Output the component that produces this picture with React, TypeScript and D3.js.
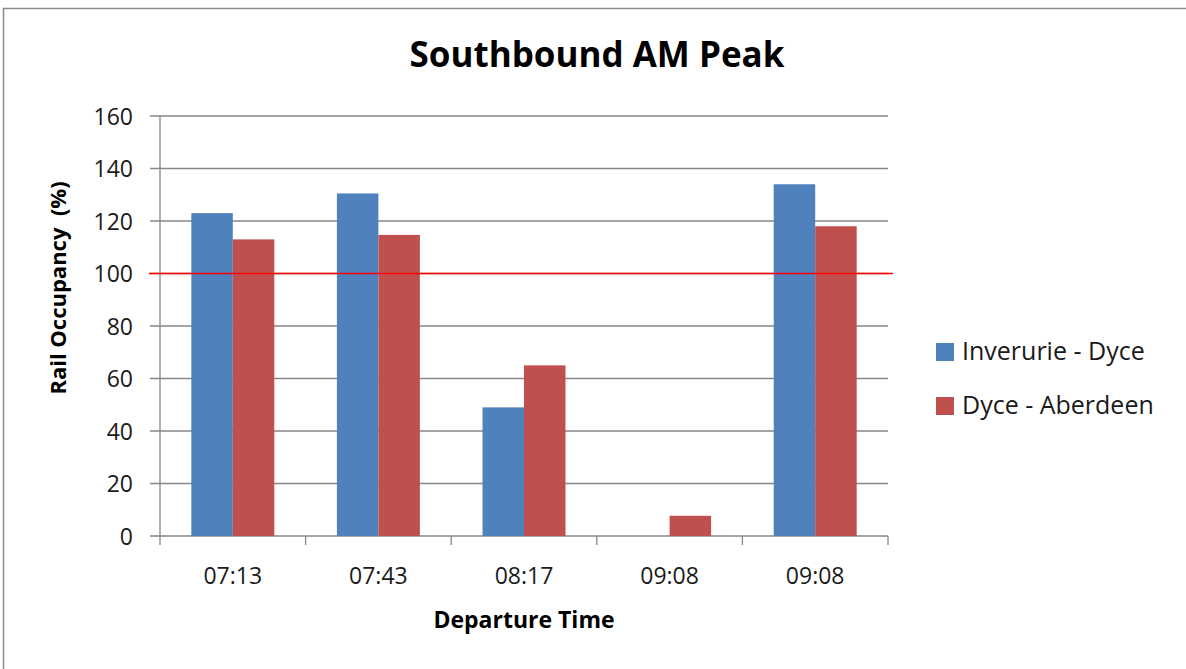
import React, { useEffect, useRef } from "react";
import * as d3 from "d3";

const categories = ["07:13", "07:43", "08:17", "09:08", "09:08 "];
const categoryLabels = ["07:13", "07:43", "08:17", "09:08", "09:08"];
const seriesNames = ["Inverurie - Dyce", "Dyce - Aberdeen"];
const inverurieDyce = [123, 130.5, 49, 0, 134];
const dyceAberdeen = [113, 114.7, 65, 7.7, 118];
const yTicks = [0, 20, 40, 60, 80, 100, 120, 140, 160];
const threshold = 100;

const COLORS = ["#4F81BD", "#C0504D"];
const FONT = "'Open Sans', 'Noto Sans', sans-serif";

export default function App() {
  const ref = useRef<SVGSVGElement | null>(null);

  useEffect(() => {
    const svg = d3.select(ref.current);
    svg.selectAll("*").remove();

    const W = 1186, H = 669;
    const left = 160, right = 888, top = 116, bottom = 536;

    // frame
    svg.append("rect").attr("width", W).attr("height", H).attr("fill", "#fff");
    svg.append("rect")
      .attr("x", 3.5).attr("y", 8.5).attr("width", W + 20).attr("height", H + 20)
      .attr("fill", "none").attr("stroke", "#8c8c8c").attr("stroke-width", 1.5);

    const x = d3.scaleBand<string>().domain(categories).range([left, right]).paddingInner(0).paddingOuter(0);
    const y = d3.scaleLinear().domain([0, 160]).range([bottom, top]);
    const inner = d3.scaleBand<string>().domain(seriesNames).range([0, x.bandwidth()]).paddingInner(0).paddingOuter(0.755);

    // gridlines
    svg.append("g").selectAll("line").data(yTicks).join("line")
      .attr("x1", left - 10).attr("x2", right)
      .attr("y1", (d) => y(d)).attr("y2", (d) => y(d))
      .attr("stroke", "#878787").attr("stroke-width", 1.3);

    // y axis line
    svg.append("line").attr("x1", left).attr("x2", left).attr("y1", top).attr("y2", bottom)
      .attr("stroke", "#878787").attr("stroke-width", 1.3);

    // x ticks
    const xTickPos = categories.map((c) => x(c)!).concat([right]);
    svg.append("g").selectAll("line").data(xTickPos).join("line")
      .attr("x1", (d) => d).attr("x2", (d) => d).attr("y1", bottom).attr("y2", bottom + 9)
      .attr("stroke", "#878787").attr("stroke-width", 1.3);

    // bars
    const series = [inverurieDyce, dyceAberdeen];
    series.forEach((vals, si) => {
      svg.append("g").selectAll("rect").data(vals).join("rect")
        .attr("x", (_, i) => x(categories[i])! + inner(seriesNames[si])!)
        .attr("y", (d) => y(d))
        .attr("width", inner.bandwidth())
        .attr("height", (d) => bottom - y(d))
        .attr("fill", COLORS[si]);
    });

    // threshold line
    svg.append("line").attr("x1", left - 11).attr("x2", right + 5)
      .attr("y1", y(threshold)).attr("y2", y(threshold))
      .attr("stroke", "#FF0000").attr("stroke-width", 1.6);

    // y tick labels
    svg.append("g").selectAll("text").data(yTicks).join("text")
      .attr("x", 133).attr("y", (d) => y(d) + 8.5)
      .attr("text-anchor", "end").attr("font-family", FONT).attr("font-size", 23)
      .attr("fill", "#1a1a1a").text((d) => d);

    // x tick labels
    svg.append("g").selectAll("text").data(categories).join("text")
      .attr("x", (d) => x(d)! + x.bandwidth() / 2).attr("y", 584)
      .attr("text-anchor", "middle").attr("font-family", FONT).attr("font-size", 23)
      .attr("fill", "#1a1a1a").text((_, i) => categoryLabels[i]);

    // title
    svg.append("text").attr("x", 597).attr("y", 67).attr("text-anchor", "middle")
      .attr("font-family", FONT).attr("font-size", 35).attr("font-weight", "bold")
      .attr("fill", "#000").text("Southbound AM Peak");

    // axis titles
    svg.append("text").attr("x", 524).attr("y", 628).attr("text-anchor", "middle")
      .attr("font-family", FONT).attr("font-size", 23).attr("font-weight", "bold")
      .attr("fill", "#000").text("Departure Time");
    svg.append("text").attr("transform", "translate(66,288) rotate(-90)").attr("text-anchor", "middle")
      .attr("font-family", FONT).attr("font-size", 22).attr("font-weight", "bold")
      .attr("fill", "#000").attr("xml:space", "preserve").style("white-space", "pre")
      .text("Rail Occupancy  (%)");

    // legend
    const lg = svg.append("g").selectAll("g").data(seriesNames).join("g")
      .attr("transform", (_, i) => `translate(936,${343 + i * 54})`);
    lg.append("rect").attr("width", 18).attr("height", 18).attr("fill", (_, i) => COLORS[i]);
    lg.append("text").attr("x", 26).attr("y", 17)
      .attr("font-family", FONT).attr("font-size", 25).attr("fill", "#1a1a1a").text((d) => d);
  }, []);

  return (
    <svg ref={ref} width={1186} height={669}
      style={{ position: "absolute", left: 0, top: 0, display: "block" }} />
  );
}
